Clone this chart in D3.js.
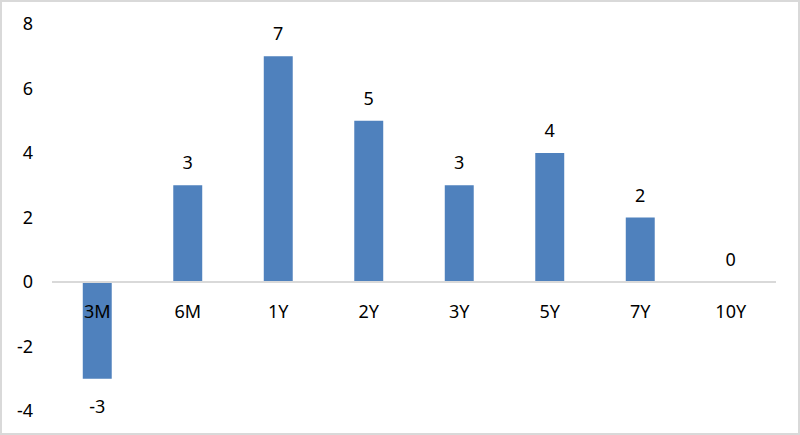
<!DOCTYPE html>
<html>
<head>
<meta charset="utf-8">
<script src="https://cdn.jsdelivr.net/npm/d3@7"></script>
<style>
  body { margin: 0; background: #fff; }
  svg { display: block; font-family: "Noto Sans", "DejaVu Sans", sans-serif; }
</style>
</head>
<body>
<script>
// chart data
var categories = ["3M", "6M", "1Y", "2Y", "3Y", "5Y", "7Y", "10Y"];
var values = [-3, 3, 7, 5, 3, 4, 2, 0];
var yTicks = [-4, -2, 0, 2, 4, 6, 8];

var width = 800, height = 435;
var margin = {top: 24, right: 24, bottom: 24, left: 52};

var svg = d3.select("body")
            .append("svg")
            .attr("width", width)
            .attr("height", height);

// outer frame
svg.append("rect")
   .attr("x", 1).attr("y", 1)
   .attr("width", width - 2).attr("height", height - 2)
   .attr("fill", "#fff")
   .attr("stroke", "#d9d9d9")
   .attr("stroke-width", 2);

var x = d3.scaleBand()
          .domain(categories)
          .range([margin.left, width - margin.right])
          .paddingInner(0.68)
          .paddingOuter(0.34);

var y = d3.scaleLinear()
          .domain([-4, 8])
          .range([411, 24]);

// y tick labels (no axis line), plain hyphen for negatives
var yAxis = svg.append("g")
               .attr("transform", "translate(" + 33 + ",0)")
               .call(d3.axisLeft(y).tickValues(yTicks).tickSize(0).tickPadding(0)
                       .tickFormat(function(d) { return String(d); }));
yAxis.select(".domain").remove();
yAxis.selectAll("text")
     .attr("font-size", 18)
     .attr("font-family", "Noto Sans, DejaVu Sans, sans-serif")
     .attr("fill", "#000");

// bars
svg.selectAll("rect.bar")
   .data(values)
   .enter().append("rect")
   .attr("class", "bar")
   .attr("x", function(d, i) { return x(categories[i]); })
   .attr("width", x.bandwidth())
   .attr("y", function(d) { return y(Math.max(d, 0)); })
   .attr("height", function(d) { return Math.abs(y(d) - y(0)); })
   .attr("fill", "#4f81bd");

// zero line
svg.append("line")
   .attr("x1", margin.left)
   .attr("x2", width - margin.right)
   .attr("y1", y(0))
   .attr("y2", y(0))
   .attr("stroke", "#d9d9d9")
   .attr("stroke-width", 2);

// category labels
svg.selectAll("text.cat")
   .data(categories)
   .enter().append("text")
   .attr("class", "cat")
   .attr("x", function(d) { return x(d) + x.bandwidth() / 2; })
   .attr("y", y(0) + 36)
   .attr("text-anchor", "middle")
   .attr("font-size", 18)
   .attr("fill", "#000")
   .text(function(d) { return d; });

// value labels
svg.selectAll("text.val")
   .data(values)
   .enter().append("text")
   .attr("class", "val")
   .attr("x", function(d, i) { return x(categories[i]) + x.bandwidth() / 2; })
   .attr("y", function(d) { return d < 0 ? y(d) + 34 : y(d) - 16; })
   .attr("text-anchor", "middle")
   .attr("font-size", 18)
   .attr("fill", "#000")
   .text(function(d) { return d; });
</script>
</body>
</html>
